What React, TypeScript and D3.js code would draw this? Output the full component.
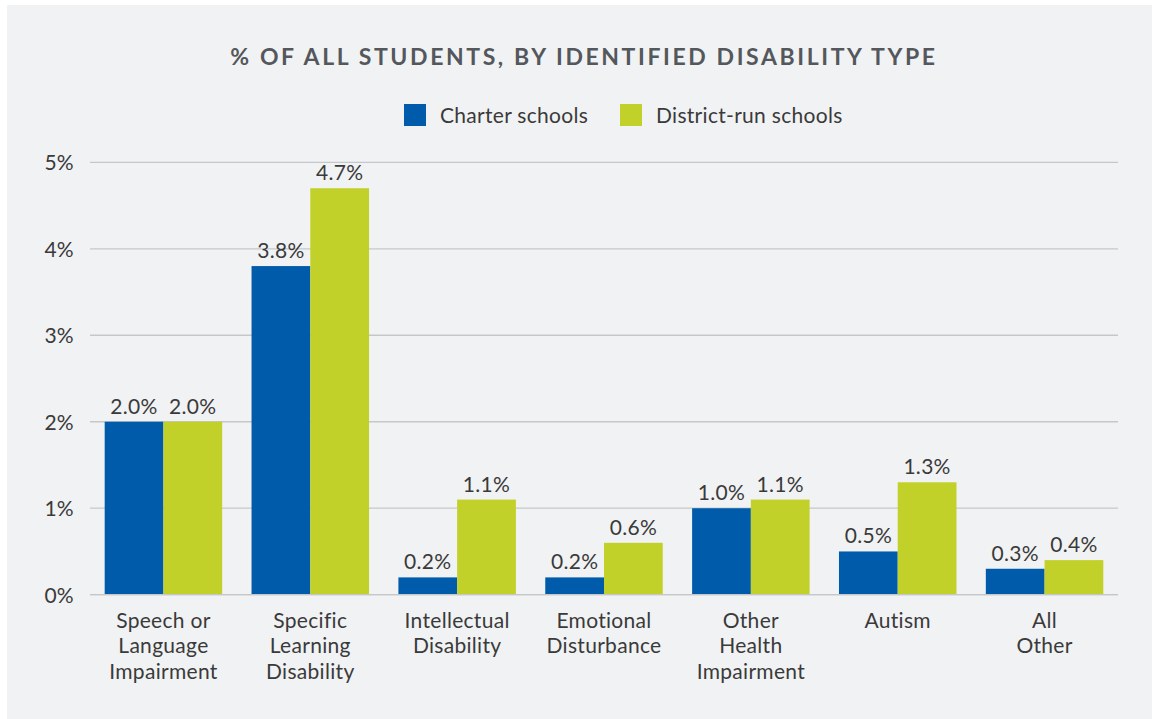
import React from "react";
import * as d3 from "d3";

const categories: string[][] = [
  ["Speech or", "Language", "Impairment"],
  ["Specific", "Learning", "Disability"],
  ["Intellectual", "Disability"],
  ["Emotional", "Disturbance"],
  ["Other", "Health", "Impairment"],
  ["Autism"],
  ["All", "Other"],
];
const charter: number[] = [2.0, 3.8, 0.2, 0.2, 1.0, 0.5, 0.3];
const district: number[] = [2.0, 4.7, 1.1, 0.6, 1.1, 1.3, 0.4];
const seriesNames: string[] = ["Charter schools", "District-run schools"];
const yTicks: number[] = [0, 1, 2, 3, 4, 5];
const title = "% OF ALL STUDENTS, BY IDENTIFIED DISABILITY TYPE";

const W = 1152;
const H = 719;
const colors = ["#005baa", "#c2d02a"];
const FONT = "Lato, 'Open Sans', sans-serif";
const TEXT = "#3a3a3a";
const FS = 21;
const LS = 0.3;

export default function App() {
  const x0 = d3
    .scaleBand<number>()
    .domain(categories.map((_, i) => i))
    .range([90, 1118])
    .paddingInner(0.2)
    .paddingOuter(0.1);
  const x1 = d3.scaleBand<number>().domain([0, 1]).range([0, x0.bandwidth()]);
  const y = d3.scaleLinear().domain([0, 5]).range([594.7, 162.3]);
  const series = [charter, district];

  return (
    <svg
      width={W}
      height={H}
      style={{ position: "absolute", left: 0, top: 0, display: "block" }}
    >
      <rect x={0} y={0} width={W} height={H} fill="#ffffff" />
      <rect x={7} y={5} width={W - 7} height={H - 5} fill="#f1f2f4" />
      <text
        x={584}
        y={65}
        textAnchor="middle"
        fontFamily={FONT}
        fontWeight={700}
        fontSize={23}
        letterSpacing={2.6}
        fill="#54575b"
      >
        {title}
      </text>
      {/* legend */}
      {[
        { x: 404, tx: 440 },
        { x: 620, tx: 656 },
      ].map((l, i) => (
        <g key={i}>
          <rect x={l.x} y={104} width={22} height={22} fill={colors[i]} />
          <text
            x={l.tx}
            y={122.5}
            fontFamily={FONT}
            fontSize={FS}
            letterSpacing={LS}
            fill={TEXT}
          >
            {seriesNames[i]}
          </text>
        </g>
      ))}
      {/* grid */}
      {yTicks.map((t) => (
        <g key={t}>
          <line
            x1={90}
            x2={1118}
            y1={y(t)}
            y2={y(t)}
            stroke="#c6c7c9"
            strokeWidth={1.3}
          />
          <text
            x={74}
            y={y(t) + 8}
            textAnchor="end"
            fontFamily={FONT}
            fontSize={FS}
            letterSpacing={LS}
            fill={TEXT}
          >
            {t}%
          </text>
        </g>
      ))}
      {/* bars */}
      {categories.map((_, ci) => (
        <g key={ci} transform={`translate(${x0(ci)},0)`}>
          {series.map((s, si) => {
            const v = s[ci];
            const bx = x1(si)!;
            return (
              <g key={si}>
                <rect
                  x={bx}
                  y={y(v)}
                  width={x1.bandwidth()}
                  height={y(0) - y(v)}
                  fill={colors[si]}
                />
                <text
                  x={bx + x1.bandwidth() / 2}
                  y={y(v) - 8}
                  textAnchor="middle"
                  fontFamily={FONT}
                  fontSize={FS}
                  letterSpacing={LS}
                  fill={TEXT}
                >
                  {v.toFixed(1)}%
                </text>
              </g>
            );
          })}
        </g>
      ))}
      {/* baseline */}
      <line x1={90} x2={1118} y1={y(0)} y2={y(0)} stroke="#c6c7c9" strokeWidth={1.3} />
      {/* category labels */}
      {categories.map((lines, ci) => (
        <text
          key={ci}
          x={x0(ci)! + x0.bandwidth() / 2}
          y={627.5}
          textAnchor="middle"
          fontFamily={FONT}
          fontSize={FS}
          letterSpacing={LS}
          fill={TEXT}
        >
          {lines.map((ln, li) => (
            <tspan key={li} x={x0(ci)! + x0.bandwidth() / 2} dy={li === 0 ? 0 : 25.5}>
              {ln}
            </tspan>
          ))}
        </text>
      ))}
    </svg>
  );
}
